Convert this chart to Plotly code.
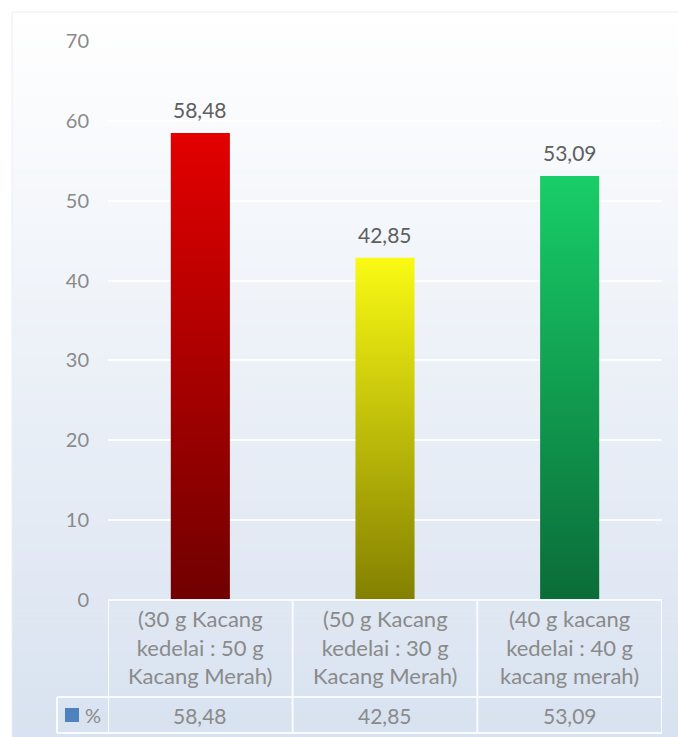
import plotly.graph_objects as go

# ---------------- data ----------------
categories = [
    "(30 g Kacang<br>kedelai : 50 g<br>Kacang Merah)",
    "(50 g Kacang<br>kedelai : 30 g<br>Kacang Merah)",
    "(40 g kacang<br>kedelai : 40 g<br>kacang merah)",
]
values = [58.48, 42.85, 53.09]
series_name = "%"
y_ticks = [0, 10, 20, 30, 40, 50, 60, 70]

# ---------------- styles ----------------
W, H = 678, 737
top_colors = ["#E30000", "#FAFA14", "#18CE68"]
bottom_colors = ["#700000", "#838000", "#0A6C38"]
FONT = "Lato"
tick_color = "#8A8A8A"
label_color = "#5E5E5E"
line_color = "rgba(250,252,255,0.95)"


def px(x):
    return x / W


def py(y):
    return 1 - y / H


def fmt(v):
    return f"{v:.2f}".replace(".", ",")


fig = go.Figure()

# bars with vertical gradient
half = 0.16
for i, v in enumerate(values):
    fig.add_trace(go.Scatter(
        x=[i - half, i + half, i + half, i - half, i - half],
        y=[0, 0, v, v, 0],
        mode="lines",
        fill="toself",
        line=dict(width=0, color=top_colors[i]),
        fillgradient=dict(type="vertical",
                          colorscale=[[0, bottom_colors[i]], [1, top_colors[i]]],
                          start=0, stop=v),
        hoverinfo="skip",
        showlegend=False,
    ))

shapes = []
# chart-area background gradient
top_rgb = (255, 255, 255)
bot_rgb = (216, 226, 240)
y0, y1 = 12, H
n = 120
for k in range(n):
    t = (k + 0.5) / n
    c = tuple(round(top_rgb[j] + (bot_rgb[j] - top_rgb[j]) * t) for j in range(3))
    ya = y0 + (y1 - y0) * k / n
    yb = y0 + (y1 - y0) * (k + 1) / n + 0.6
    shapes.append(dict(type="rect", xref="paper", yref="paper",
                       x0=px(12), x1=1, y0=py(min(yb, H)), y1=py(ya),
                       fillcolor="rgb(%d,%d,%d)" % c, line=dict(width=0),
                       layer="below"))
# faint chart-area border
shapes.append(dict(type="rect", xref="paper", yref="paper",
                   x0=px(12), x1=1.01, y0=-0.01, y1=py(12),
                   line=dict(color="rgba(235,238,243,1)", width=1), layer="below"))

# data table lines
t_top, t_mid, t_bot = 600, 697, 733
x_left_key = 57
col_edges = [-0.5, 0.5, 1.5, 2.5]
for xe in col_edges:
    shapes.append(dict(type="line", xref="x", yref="paper", x0=xe, x1=xe,
                       y0=py(t_bot), y1=py(t_top), line=dict(color=line_color, width=2)))
shapes.append(dict(type="line", xref="paper", yref="paper", x0=px(x_left_key), x1=px(x_left_key),
                   y0=py(t_bot), y1=py(t_mid), line=dict(color=line_color, width=2)))
shapes.append(dict(type="line", xref="x", yref="paper", x0=-0.5, x1=2.5,
                   y0=py(t_top), y1=py(t_top), line=dict(color=line_color, width=2)))
for yy in (t_mid, t_bot):
    shapes.append(dict(type="line", xref="paper", yref="paper", x0=px(x_left_key), x1=px(662),
                       y0=py(yy), y1=py(yy), line=dict(color=line_color, width=2)))
# legend key
shapes.append(dict(type="rect", xref="paper", yref="paper",
                   x0=px(65), x1=px(79), y0=py(722), y1=py(708),
                   fillcolor="#4F81BD", line=dict(width=0)))

annotations = []
# data labels
for i, v in enumerate(values):
    annotations.append(dict(x=i, y=v, xref="x", yref="y", text=fmt(v), showarrow=False,
                            xanchor="center", yanchor="bottom", yshift=9,
                            font=dict(family=FONT, size=21, color=label_color)))
# table category labels
for i, c in enumerate(categories):
    annotations.append(dict(x=i, y=py(647), xref="x", yref="paper", text=c, showarrow=False,
                            xanchor="center", yanchor="middle", align="center",
                            font=dict(family=FONT, size=22, color=tick_color)))
# table value row
for i, v in enumerate(values):
    annotations.append(dict(x=i, y=py(715), xref="x", yref="paper", text=fmt(v), showarrow=False,
                            xanchor="center", yanchor="middle",
                            font=dict(family=FONT, size=21, color=tick_color)))
annotations.append(dict(x=px(93), y=py(715), xref="paper", yref="paper", text=series_name,
                        showarrow=False, xanchor="center", yanchor="middle",
                        font=dict(family=FONT, size=20, color=tick_color)))

fig.update_layout(
    width=W, height=H,
    margin=dict(l=0, r=0, t=0, b=0, autoexpand=False),
    paper_bgcolor="white",
    plot_bgcolor="rgba(0,0,0,0)",
    shapes=shapes,
    annotations=annotations,
    showlegend=False,
    xaxis=dict(domain=[px(108), px(662)], range=[-0.5, 2.5], showgrid=False,
               zeroline=False, showticklabels=False, showline=False, fixedrange=True,
               automargin=False),
    yaxis=dict(domain=[py(600), py(41)], range=[0, 70], tickvals=y_ticks,
               showgrid=True, gridcolor="rgba(255,255,255,0.9)", gridwidth=2,
               zeroline=False, showline=False, ticks="", ticklabelstandoff=18,
               automargin=False,
               tickfont=dict(family=FONT, size=20, color=tick_color), fixedrange=True),
)

fig.write_html("out.html", config={"displayModeBar": False},
               post_script="document.body.style.margin='0';")
